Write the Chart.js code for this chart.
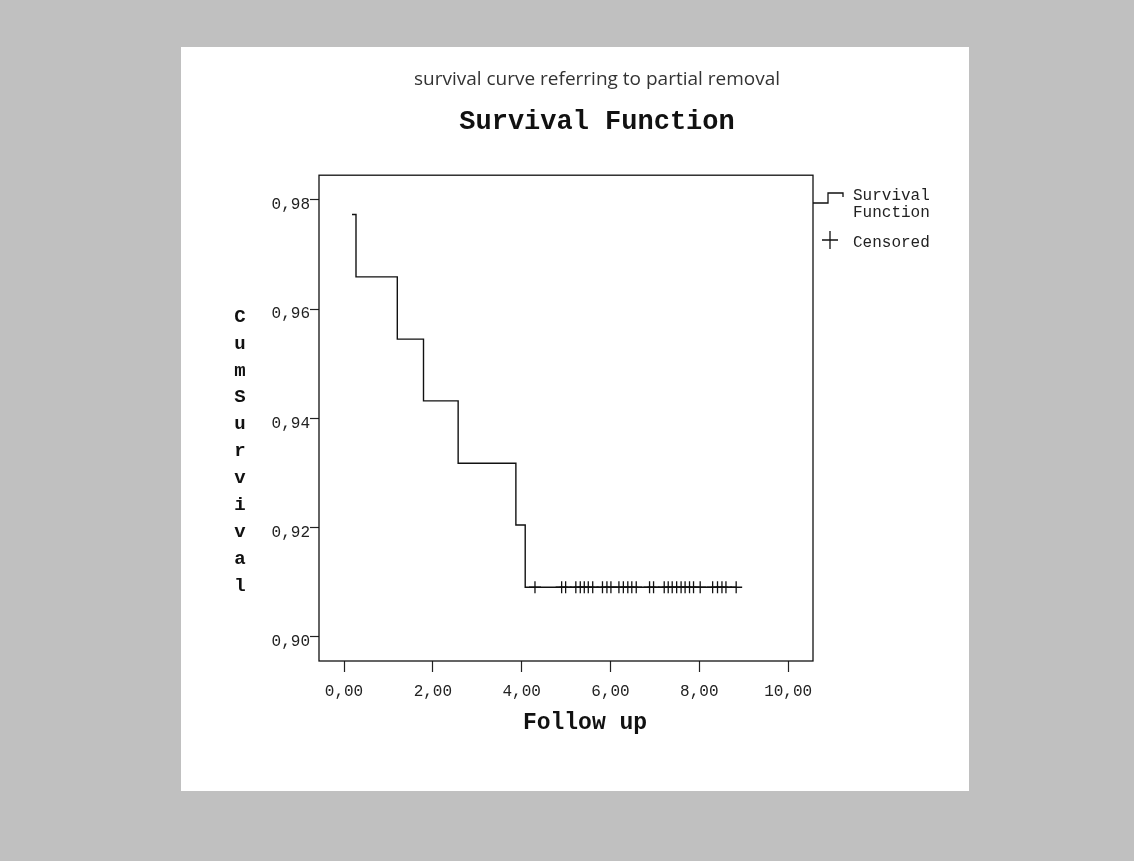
<!DOCTYPE html>
<html>
<head>
<meta charset="utf-8">
<title>Survival Function</title>
<script src="https://cdn.jsdelivr.net/npm/chart.js@4/dist/chart.umd.min.js"></script>
<style>
  body { margin: 0; background: #c0c0c0; }
  #panel { position: absolute; left: 181px; top: 47px; width: 788px; height: 744px; background: #fff; }
  #chart { position: absolute; left: 44px; top: 0; }
</style>
</head>
<body>
<div id="panel"><canvas id="chart" width="744" height="744"></canvas></div>
<script>
// Kaplan-Meier steps (time, cumulative survival)
const survTime = [0.18, 0.27, 1.20, 1.79, 2.57, 3.87, 4.08, 8.83];
const survValue = [0.9773, 0.9659, 0.9545, 0.9432, 0.9318, 0.9205, 0.9091, 0.9091];

// censored follow-up times
const censoredTime = [4.30, 4.90, 4.99, 5.22, 5.32, 5.41, 5.50, 5.60, 5.82, 5.92, 6.01,
  6.19, 6.29, 6.39, 6.48, 6.58, 6.88, 6.97, 7.21, 7.30, 7.39, 7.49, 7.59, 7.68,
  7.78, 7.87, 8.02, 8.30, 8.41, 8.51, 8.60, 8.83];

const xTicks = [0, 2, 4, 6, 8, 10];
const xTickLabels = ['0,00', '2,00', '4,00', '6,00', '8,00', '10,00'];
const yTicks = [0.90, 0.92, 0.94, 0.96, 0.98];
const yTickLabels = ['0,90', '0,92', '0,94', '0,96', '0,98'];

const xTitle = 'Follow up';
const yTitle = 'Cum Survival';

function survivalAt(t) {
  let s = survValue[0];
  for (let i = 0; i < survTime.length; i++) {
    if (survTime[i] <= t) s = survValue[i];
  }
  return s;
}

const mono = "'Liberation Mono', 'Courier New', monospace";
const ink = '#111';

// frame, axis titles and legend
const extras = {
  id: 'extras',
  afterDraw(chart) {
    const ctx = chart.ctx;
    const a = chart.chartArea;
    ctx.save();
    ctx.strokeStyle = ink;
    ctx.lineWidth = 1.3;
    ctx.strokeRect(a.left, a.top, a.right - a.left, a.bottom - a.top);

    ctx.fillStyle = ink;
    ctx.font = 'bold 19px ' + mono;
    ctx.textAlign = 'center';
    ctx.textBaseline = 'middle';
    // stacked y title
    const letters = yTitle.replace(' ', '').split('');
    letters.forEach((ch, i) => ctx.fillText(ch, 15, 270 + i * 26.9));
    // x title
    ctx.font = 'bold 23px ' + mono;
    ctx.fillText(xTitle, 360, 676);

    // legend
    const lx = a.right;
    ctx.beginPath();
    ctx.moveTo(lx, 156);
    ctx.lineTo(lx + 15, 156);
    ctx.lineTo(lx + 15, 146);
    ctx.lineTo(lx + 30, 146);
    ctx.lineTo(lx + 30, 150);
    ctx.stroke();
    ctx.beginPath();
    ctx.moveTo(lx + 9, 193);
    ctx.lineTo(lx + 25, 193);
    ctx.moveTo(lx + 17, 184);
    ctx.lineTo(lx + 17, 202);
    ctx.stroke();
    ctx.font = '16px ' + mono;
    ctx.textAlign = 'left';
    ctx.fillStyle = '#222';
    ctx.fillText('Survival', lx + 40, 149);
    ctx.fillText('Function', lx + 40, 166);
    ctx.fillText('Censored', lx + 40, 196);
    ctx.restore();
  }
};

new Chart(document.getElementById('chart'), {
  type: 'line',
  data: {
    datasets: [{
      label: 'Survival Function',
      data: survTime.map((t, i) => ({ x: t, y: survValue[i] })),
      stepped: 'before',
      borderColor: ink,
      borderWidth: 1.4,
      pointRadius: 0,
      fill: false
    }, {
      type: 'scatter',
      label: 'Censored',
      data: censoredTime.map(t => ({ x: t, y: survivalAt(t) })),
      pointStyle: 'cross',
      pointRadius: 6,
      borderColor: ink,
      borderWidth: 1.3,
      showLine: false
    }]
  },
  options: {
    responsive: false,
    animation: false,
    layout: { padding: 0 },
    plugins: {
      legend: { display: false },
      tooltip: { enabled: false },
      title: {
        display: true,
        text: 'survival curve referring to partial removal',
        color: '#333',
        font: { family: "'Open Sans', sans-serif", size: 19, weight: 'normal', lineHeight: 1.2 },
        padding: { top: 21.6, bottom: 8 }
      },
      subtitle: {
        display: true,
        text: 'Survival Function',
        color: ink,
        font: { family: mono, size: 27, weight: 'bold', lineHeight: 1.2 },
        padding: { top: 6.6, bottom: 36.8 }
      }
    },
    scales: {
      x: {
        type: 'linear',
        min: -0.563,
        max: 10.56,
        border: { display: false },
        grid: { drawOnChartArea: false, color: '#222', tickLength: 11, tickWidth: 1.2 },
        afterBuildTicks: s => { s.ticks = xTicks.map(v => ({ value: v })); },
        afterFit: s => { s.height = 130; },
        ticks: {
          color: '#222',
          padding: 10,
          maxRotation: 0,
          autoSkip: false,
          font: { family: mono, size: 16, lineHeight: 1.2 },
          callback: v => xTickLabels[xTicks.indexOf(v)]
        }
      },
      y: {
        min: 0.8956,
        max: 0.9845,
        border: { display: false },
        grid: { drawOnChartArea: false, color: '#222', tickLength: 9, tickWidth: 1.2 },
        afterBuildTicks: s => { s.ticks = yTicks.map(v => ({ value: v })); },
        afterFit: s => { s.width = 94; },
        ticks: {
          color: '#222',
          padding: 0,
          labelOffset: 5,
          autoSkip: false,
          font: { family: mono, size: 16, lineHeight: 1.2 },
          callback: v => yTickLabels[yTicks.findIndex(t => Math.abs(t - v) < 1e-9)]
        }
      },
      // empty right-hand axis that reserves the legend column
      legendSpace: {
        type: 'linear',
        position: 'right',
        border: { display: false },
        grid: { display: false },
        ticks: { display: false },
        afterFit: s => { s.width = 156; }
      }
    }
  },
  plugins: [extras]
});
</script>
</body>
</html>
